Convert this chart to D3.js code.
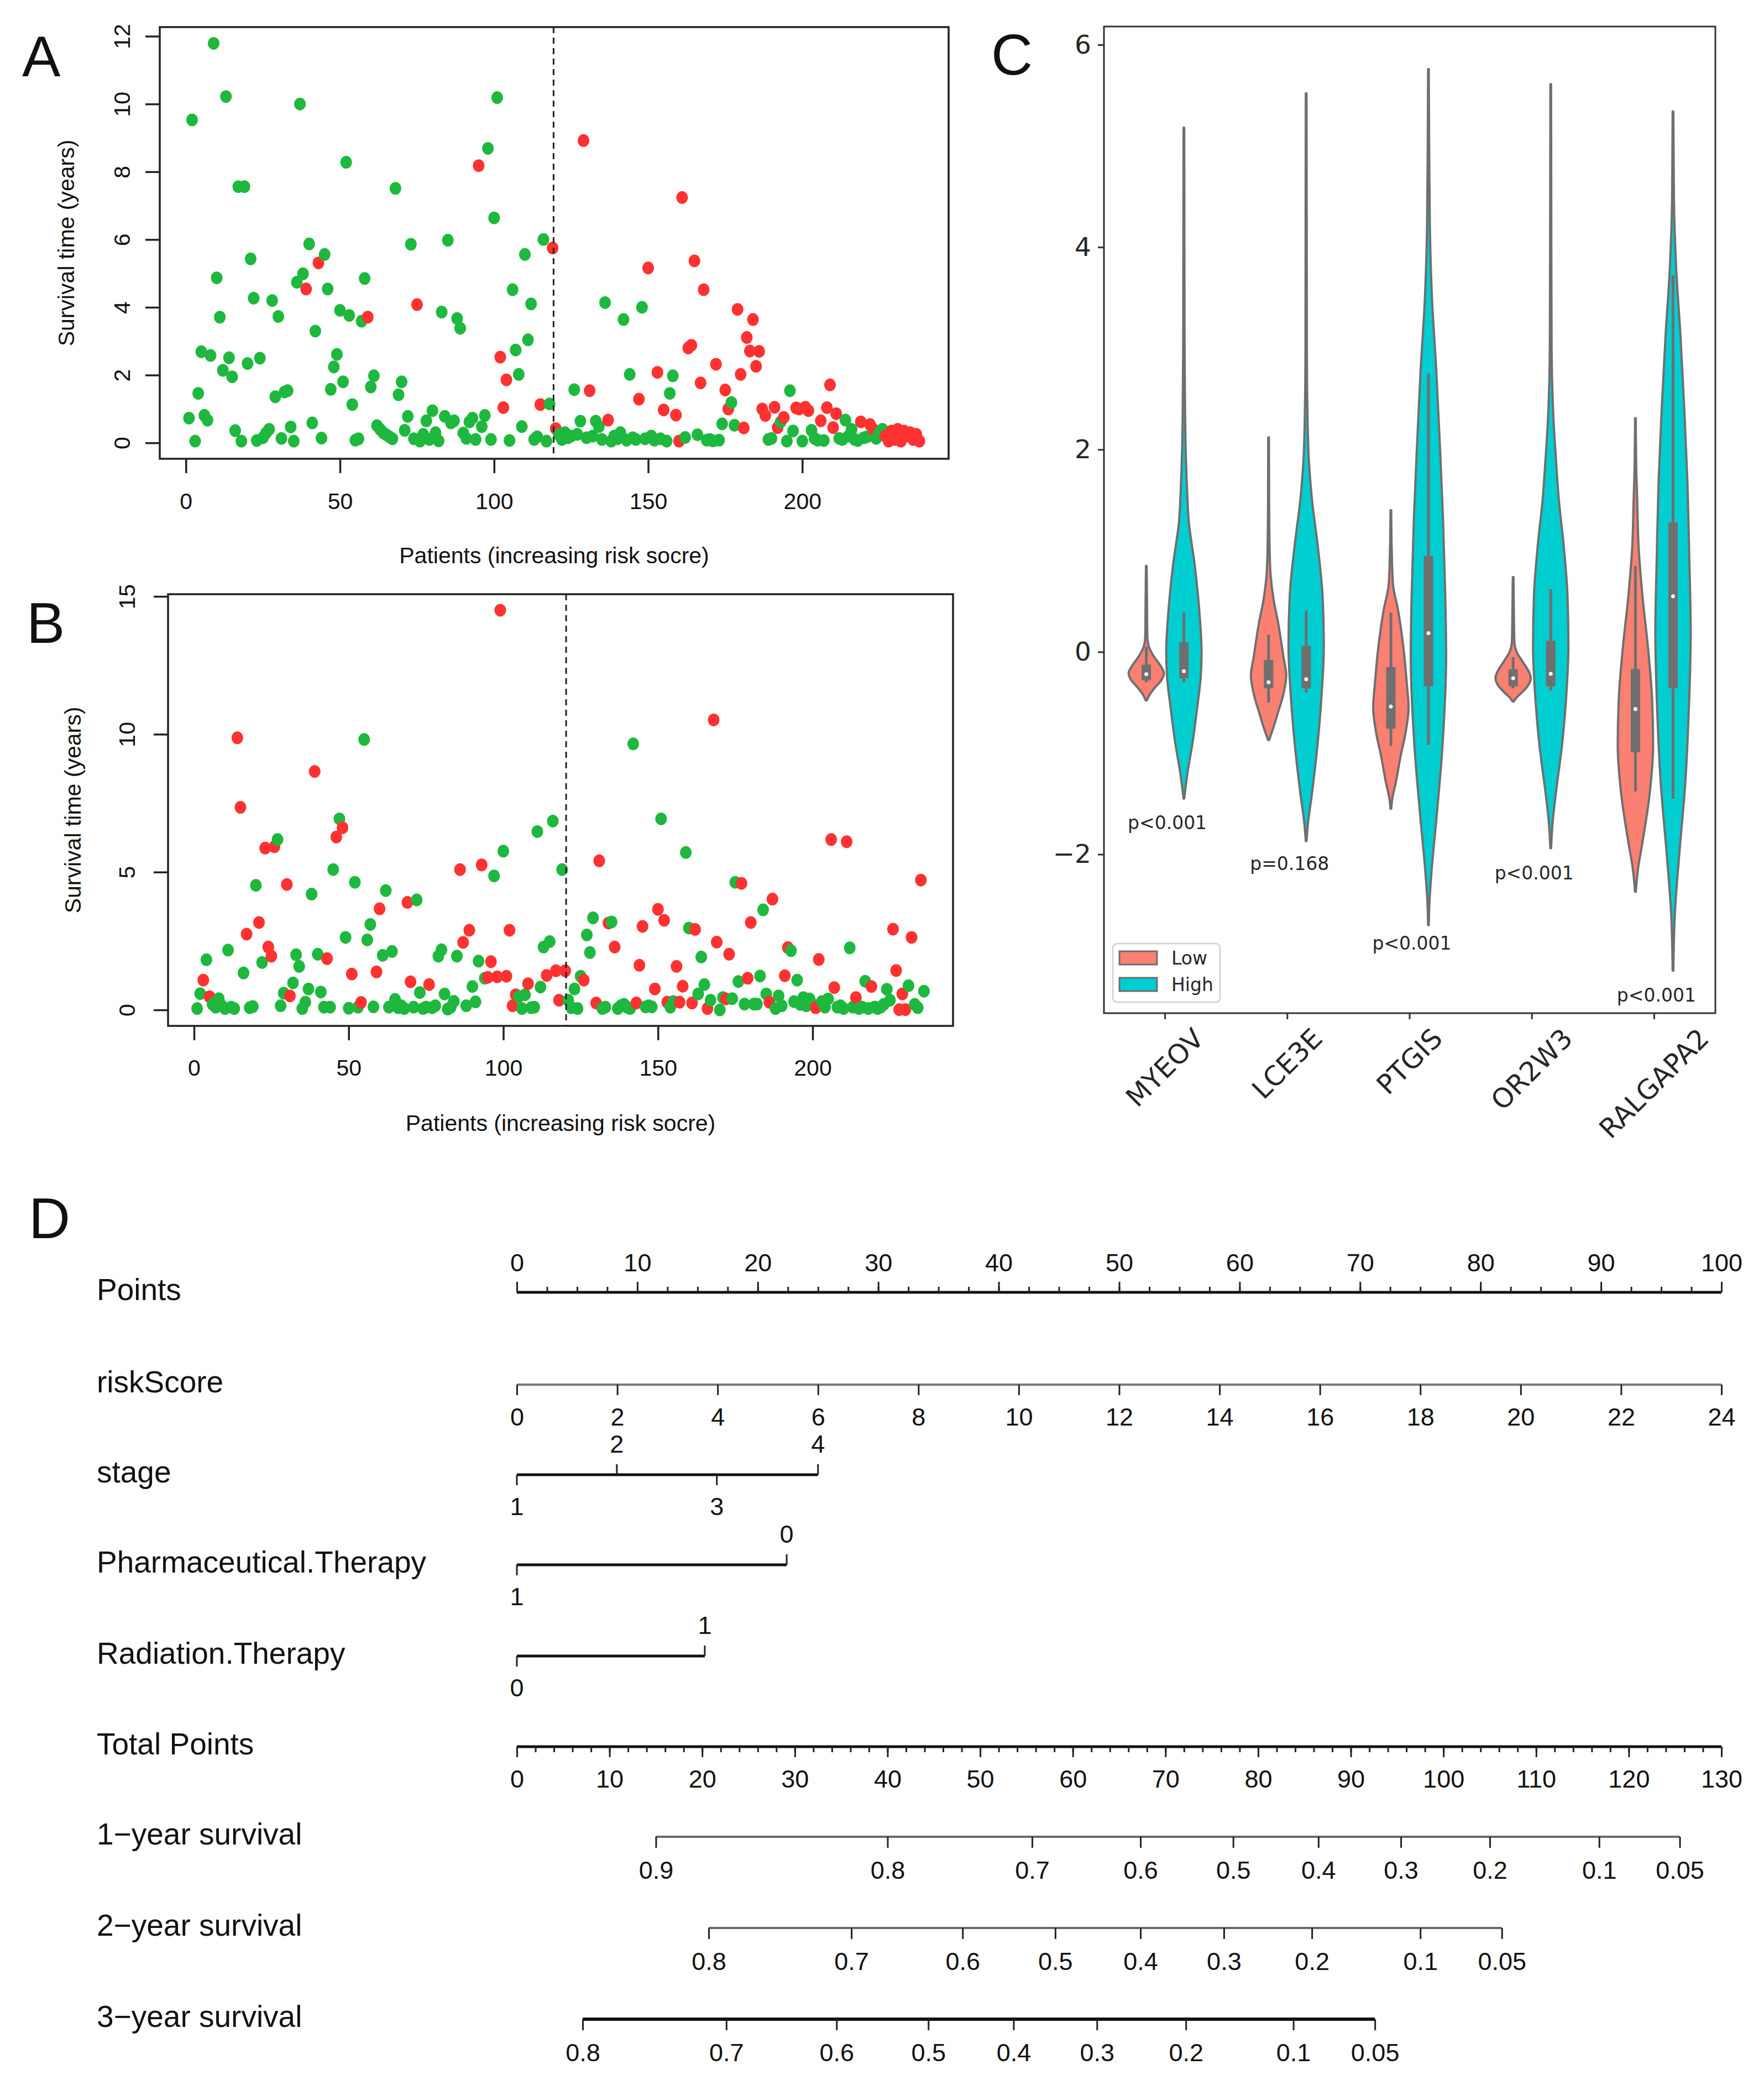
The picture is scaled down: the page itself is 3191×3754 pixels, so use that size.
<!DOCTYPE html>
<html>
<head>
<meta charset="utf-8">
<script src="https://cdn.jsdelivr.net/npm/d3@7"></script>
<style>
  body { margin: 0; background: #fff; }
  svg { display: block; }
</style>
</head>
<body>
<div id="chart"></div>
<script>
// ---------- Panel A: survival time by patient (training set) ----------
const timeA = [
  0.73,9.53,0.05,1.46,2.69,0.81,0.67,2.58,11.79,4.87,
  3.71,2.14,10.22,2.51,1.95,0.36,7.56,0.05,7.56,2.34,
  5.43,4.27,0.07,2.50,0.15,0.29,0.40,4.20,1.36,3.73,
  0.13,1.50,1.54,0.47,0.05,4.74,10.00,4.99,4.54,5.87,
  0.59,3.30,5.31,0.14,5.56,4.54,1.58,2.24,2.61,3.91,
  1.80,8.28,3.76,1.13,0.08,0.12,3.59,4.85,3.71,1.65,
  1.98,0.51,0.40,0.30,0.24,0.18,0.12,7.51,1.42,1.80,
  0.37,0.78,5.86,0.12,4.08,0.05,0.25,0.65,0.10,0.95,
  0.30,0.06,3.86,0.78,5.98,0.59,0.65,3.67,3.38,0.29,
  0.13,0.62,0.73,0.10,8.18,0.48,0.81,8.69,0.10,6.64,
  10.19,2.53,1.04,1.86,0.07,4.52,2.74,2.02,0.48,5.56,
  3.04,4.10,0.10,0.18,1.13,6.00,0.05,1.15,5.75,0.42,
  0.24,0.10,0.30,0.15,0.20,1.57,0.25,0.64,8.92,0.15,
  1.54,0.20,0.64,0.48,0.10,4.14,0.67,0.05,0.20,0.12,
  0.30,3.64,0.08,2.02,0.15,0.10,1.29,4.00,0.12,5.16,
  0.20,0.08,2.08,0.12,0.97,0.05,1.46,1.98,0.82,0.05,
  7.24,0.16,2.80,2.88,5.37,0.24,1.77,4.52,0.08,0.10,
  0.06,2.32,0.08,0.56,1.56,1.00,1.19,0.52,3.94,2.02,
  0.44,3.11,2.71,3.64,2.26,2.70,1.00,0.81,0.10,0.13,
  1.05,0.45,0.62,0.75,0.05,1.54,0.35,1.03,1.00,0.05,
  1.05,0.95,0.37,0.13,0.08,0.65,0.07,1.04,1.71,0.45,
  0.86,0.13,0.10,0.67,0.20,0.40,0.10,0.07,0.62,0.15,
  0.18,0.54,0.40,0.13,0.30,0.40,0.20,0.05,0.35,0.10,
  0.40,0.05,0.35,0.20,0.30,0.10,0.25,0.05
];
// 1 = dead (red), 0 = alive (green)
const statusA = [
  0,0,0,0,0,0,0,0,0,0, 0,0,0,0,0,0,0,0,0,0, 0,0,0,0,0,0,0,0,0,0,
  0,0,0,0,0,0,0,0,1,0, 0,0,1,0,0,0,0,0,0,0, 0,0,0,0,0,0,0,0,1,0,
  0,0,0,0,0,0,0,0,0,0, 0,0,0,0,1,0,0,0,0,0, 0,0,0,0,0,0,0,0,0,0,
  0,0,0,0,1,0,0,0,0,0, 0,1,1,1,0,0,0,0,0,0, 0,0,0,0,1,0,0,0,1,1,
  0,0,0,0,0,0,0,0,1,0, 1,0,0,0,0,0,1,0,0,0, 0,0,0,0,0,0,1,0,0,1,
  0,0,1,0,1,0,0,0,1,1, 1,0,1,1,1,0,1,1,0,0, 0,1,0,0,1,1,0,0,1,1,
  1,1,1,1,1,1,1,1,0,0, 1,1,0,1,0,0,0,1,1,0, 1,1,0,0,0,1,0,1,1,1,
  1,0,0,0,0,0,0,0,1,0, 0,1,1,0,0,0,1,1,1,1, 1,1,1,1,1,1,1,1
];
const cutA = 119.3;

// ---------- Panel B: survival time by patient (validation set) ----------
const timeB = [
  0.05,0.59,1.08,1.82,0.48,0.20,0.10,0.41,0.15,0.05,
  2.17,0.10,0.05,9.87,7.35,1.34,2.75,0.08,0.12,4.52,
  3.17,1.72,5.87,2.28,1.95,5.92,6.18,0.15,0.61,4.55,
  0.51,0.98,2.00,1.58,0.05,0.28,0.76,4.20,8.65,2.02,
  0.65,0.10,1.86,0.10,5.09,6.27,6.93,6.61,2.63,0.06,
  1.30,4.63,0.10,0.27,9.81,2.54,3.10,0.11,1.38,3.67,
  1.98,4.33,0.10,2.12,0.38,0.08,0.15,0.05,3.90,1.02,
  0.10,3.99,0.63,0.05,0.10,0.92,0.08,0.15,1.95,2.18,
  0.58,0.03,0.10,0.31,1.95,5.09,2.45,0.15,2.89,0.85,
  0.29,1.77,5.26,1.15,1.18,1.75,4.86,1.20,14.50,5.76,
  1.22,2.89,0.15,0.55,0.48,0.05,0.55,0.95,0.08,0.10,
  6.47,0.83,2.28,1.25,2.48,6.85,1.42,0.35,5.09,1.42,
  0.35,0.08,0.76,0.05,1.22,1.08,2.72,2.08,3.34,0.25,
  5.41,0.05,0.10,3.15,3.19,2.28,0.05,0.15,0.20,0.10,
  0.05,9.65,0.25,1.62,3.03,0.11,0.15,0.11,0.76,3.65,
  6.93,3.25,0.28,0.10,0.30,1.58,0.28,0.86,5.71,2.97,
  0.25,2.92,0.58,1.92,0.92,0.05,0.35,10.52,2.46,0.00,
  0.45,0.40,2.02,0.41,4.63,1.03,4.59,0.21,1.15,3.17,
  0.21,0.21,1.23,3.63,0.58,0.28,4.02,0.05,0.51,0.15,
  1.24,2.26,2.15,0.30,1.08,0.20,0.45,0.15,0.40,0.20,
  0.08,1.83,0.30,0.10,0.40,6.18,0.81,0.10,0.15,0.05,
  6.10,2.25,0.10,0.45,0.05,0.10,1.04,0.05,0.85,0.10,
  0.05,0.10,0.20,0.75,0.35,2.93,1.43,0.01,0.58,0.01,
  0.88,2.63,0.20,0.08,4.71,0.68
];
const statusB = [
  0,0,1,0,1,0,0,0,0,0, 0,0,0,1,1,0,1,0,0,0, 1,0,1,1,1,1,0,0,0,1,
  1,0,0,0,0,0,0,0,1,0, 0,0,1,0,0,1,0,1,0,0, 1,0,0,1,0,0,0,0,1,1,
  0,0,0,0,0,0,0,0,1,1, 0,0,0,0,0,1,0,0,0,0, 0,0,0,0,0,1,1,0,1,0,
  0,0,1,0,1,1,0,1,1,0, 1,1,1,1,0,0,0,1,0,0, 0,0,0,1,0,0,1,1,0,1,
  0,0,0,0,0,1,0,0,0,1, 1,0,0,1,0,1,0,0,0,0, 0,0,1,1,1,0,0,0,1,1,
  0,1,1,0,0,1,1,1,0,0, 1,1,0,0,0,1,0,1,1,0, 0,1,1,0,0,0,1,0,1,1,
  0,0,0,0,0,1,1,0,0,0, 1,1,0,0,0,0,0,0,0,0, 1,1,0,0,0,1,1,0,0,0,
  1,0,0,1,0,0,0,0,1,0, 0,0,0,0,0,1,1,1,1,1, 0,1,0,0,1,0
];
const cutB = 120.3;

const patientTicks = [0, 50, 100, 150, 200];
const yTicksA = [0, 2, 4, 6, 8, 10, 12];
const yTicksB = [0, 5, 10, 15];

// ---------- Panel C: violin plots ----------
const genes = ['MYEOV', 'LCE3E', 'PTGIS', 'OR2W3', 'RALGAPA2'];
const riskGroups = ['Low', 'High'];
// density outlines: [expression value, relative half width]
const violinLow = [
  [[0.85,0.02],[0.5,0.04],[0.15,0.06],[0.05,0.15],[-0.05,0.45],[-0.15,0.85],[-0.21,1.0],[-0.28,0.85],[-0.35,0.5],[-0.42,0.2],[-0.48,0.03]],
  [[2.12,0.02],[1.5,0.03],[1.0,0.06],[0.75,0.12],[0.5,0.3],[0.3,0.53],[-0.06,0.85],[-0.23,1.0],[-0.43,0.82],[-0.6,0.53],[-0.75,0.27],[-0.87,0.03]],
  [[1.40,0.02],[1.0,0.05],[0.67,0.12],[0.42,0.4],[0.06,0.7],[-0.31,0.9],[-0.55,1.0],[-0.8,0.83],[-1.04,0.54],[-1.29,0.28],[-1.45,0.08],[-1.55,0.02]],
  [[0.74,0.02],[0.4,0.04],[0.1,0.07],[0.0,0.2],[-0.1,0.55],[-0.2,0.9],[-0.26,1.0],[-0.33,0.85],[-0.4,0.5],[-0.45,0.2],[-0.49,0.03]],
  [[2.31,0.02],[1.8,0.05],[1.5,0.1],[1.04,0.18],[0.55,0.4],[0.06,0.7],[-0.43,0.93],[-0.92,1.0],[-1.41,0.8],[-1.9,0.38],[-2.14,0.15],[-2.37,0.02]]
];
const violinHigh = [
  [[5.18,0.02],[4.0,0.03],[3.0,0.04],[2.3,0.07],[2.0,0.1],[1.6,0.18],[1.3,0.27],[0.85,0.62],[0.34,0.9],[0.0,1.0],[-0.25,0.95],[-0.54,0.76],[-0.91,0.48],[-1.2,0.2],[-1.45,0.02]],
  [[5.52,0.02],[4.5,0.03],[3.0,0.04],[2.3,0.08],[1.9,0.15],[1.52,0.32],[1.04,0.66],[0.55,0.93],[0.06,1.0],[-0.43,0.87],[-0.92,0.64],[-1.41,0.32],[-1.7,0.1],[-1.87,0.02]],
  [[5.76,0.02],[5.0,0.04],[4.2,0.08],[3.5,0.2],[2.76,0.45],[2.03,0.65],[1.29,0.83],[0.56,0.95],[-0.03,1.0],[-0.91,0.8],[-1.65,0.45],[-2.16,0.18],[-2.5,0.05],[-2.7,0.02]],
  [[5.61,0.02],[4.5,0.03],[3.0,0.05],[2.4,0.13],[1.81,0.33],[1.52,0.45],[1.04,0.74],[0.55,0.95],[0.06,1.0],[-0.43,0.88],[-0.92,0.64],[-1.41,0.28],[-1.7,0.1],[-1.94,0.02]],
  [[5.34,0.02],[4.5,0.05],[3.79,0.18],[3.13,0.42],[2.4,0.64],[1.66,0.82],[0.93,0.92],[0.19,1.0],[-0.54,0.9],[-1.28,0.7],[-2.01,0.35],[-2.6,0.1],[-3.15,0.02]]
];
// inner boxes: [whisker low, q1, median, q3, whisker high]
const boxLow = [
  [-0.30,-0.28,-0.22,-0.125,0.05],
  [-0.50,-0.36,-0.30,-0.08,0.17],
  [-0.93,-0.76,-0.54,-0.15,0.39],
  [-0.36,-0.34,-0.26,-0.17,-0.05],
  [-1.38,-0.99,-0.565,-0.17,0.85]
];
const boxHigh = [
  [-0.30,-0.26,-0.19,0.095,0.39],
  [-0.40,-0.36,-0.27,0.06,0.41],
  [-0.92,-0.34,0.185,0.95,2.75],
  [-0.38,-0.34,-0.216,0.11,0.62],
  [-1.45,-0.36,0.55,1.28,3.72]
];
const pLabels = ['p<0.001', 'p=0.168', 'p<0.001', 'p<0.001', 'p<0.001'];
const pLabelValue = [-1.69, -2.09, -2.88, -2.185, -3.39];
const yTicksC = [-2, 0, 2, 4, 6];

// ---------- Panel D: nomogram ----------
const pointsTicks = d3.range(0, 101, 10);
const riskScoreTicks = d3.range(0, 25, 2);
const stageLevels = ['1', '2', '3', '4'];
const stagePoints = [0, 8.3, 16.6, 25];
const pharmaLevels = ['1', '0'];
const pharmaPoints = [0, 22.4];
const radiationLevels = ['0', '1'];
const radiationPoints = [0, 15.6];
const totalTicks = d3.range(0, 131, 10);
const survLabels1 = ['0.9','0.8','0.7','0.6','0.5','0.4','0.3','0.2','0.1','0.05'];
const survTotal1 = [15.0, 40.0, 55.6, 67.3, 77.3, 86.5, 95.4, 105.0, 116.8, 125.5];
const survLabels2 = ['0.8','0.7','0.6','0.5','0.4','0.3','0.2','0.1','0.05'];
const survTotal2 = [20.7, 36.1, 48.1, 58.1, 67.3, 76.3, 85.8, 97.5, 106.3];
const survLabels3 = ['0.8','0.7','0.6','0.5','0.4','0.3','0.2','0.1','0.05'];
const survTotal3 = [7.1, 22.6, 34.5, 44.4, 53.6, 62.6, 72.2, 83.8, 92.6];

// ---------------------------------------------------------------
const W = 3191, H = 3754;
const rFont = '"Liberation Sans", Arial, Helvetica, sans-serif';
const pyFont = '"DejaVu Sans", sans-serif';
const green = '#1eb83e', red = '#ff3131';

const svg = d3.select('#chart').append('svg')
  .attr('width', W).attr('height', H)
  .attr('viewBox', `0 0 ${W} ${H}`);
svg.append('rect').attr('width', W).attr('height', H).attr('fill', '#fff');

function panelLetter(txt, x, y) {
  svg.append('text').attr('x', x).attr('y', y)
    .attr('font-family', rFont).attr('font-size', 104)
    .attr('fill', '#111').text(txt);
}

function drawScatter(p) {
  const g = svg.append('g');
  const x = d3.scaleLinear().domain(p.xDomain).range([p.left, p.right]);
  const y = d3.scaleLinear().domain(p.yDomain).range([p.bottom, p.top]);

  // x axis (R style: ticks out of the box)
  const xa = g.append('g')
    .attr('transform', `translate(0,${p.bottom})`)
    .call(d3.axisBottom(x).tickValues(patientTicks).tickSize(26).tickSizeOuter(0))
    .attr('font-family', rFont).attr('font-size', 41);
  xa.select('.domain').remove();
  xa.selectAll('line').attr('stroke', '#222').attr('stroke-width', 3.5);
  xa.selectAll('text').attr('y', p.xTickOffset).attr('dy', '0.35em').attr('fill', '#111');

  const ya = g.append('g')
    .attr('transform', `translate(${p.left},0)`)
    .call(d3.axisLeft(y).tickValues(p.yTicks).tickSize(26).tickSizeOuter(0))
    .attr('font-family', rFont).attr('font-size', 41);
  ya.select('.domain').remove();
  ya.selectAll('line').attr('stroke', '#222').attr('stroke-width', 3.5);
  ya.selectAll('text')
    .attr('transform', 'rotate(-90)')
    .attr('x', 0).attr('y', -p.yTickOffset).attr('dy', '0.35em')
    .style('text-anchor', 'middle').attr('fill', '#111');

  const pts = p.times.map((t, i) => ({ idx: i + 1, t, dead: p.status[i] }));
  g.append('g').selectAll('ellipse').data(pts).join('ellipse')
    .attr('cx', d => x(d.idx))
    .attr('cy', d => y(d.t))
    .attr('rx', 10.5).attr('ry', 11.5)
    .attr('fill', d => d.dead ? red : green);

  g.append('line')
    .attr('x1', x(p.cut)).attr('x2', x(p.cut))
    .attr('y1', p.top).attr('y2', p.bottom)
    .attr('stroke', '#222').attr('stroke-width', 3)
    .attr('stroke-dasharray', '11,8');

  g.append('rect')
    .attr('x', p.left).attr('y', p.top)
    .attr('width', p.right - p.left).attr('height', p.bottom - p.top)
    .attr('fill', 'none').attr('stroke', '#222').attr('stroke-width', 3.5);

  g.append('text')
    .attr('x', (p.left + p.right) / 2).attr('y', p.xLabelY).attr('dy', '0.35em')
    .attr('text-anchor', 'middle')
    .attr('font-family', rFont).attr('font-size', 41).attr('fill', '#111')
    .text('Patients (increasing risk socre)');

  g.append('text')
    .attr('transform', `translate(${p.yLabelX},${(p.top + p.bottom) / 2}) rotate(-90)`)
    .attr('dy', '0.35em').attr('text-anchor', 'middle')
    .attr('font-family', rFont).attr('font-size', 41).attr('fill', '#111')
    .text('Survival time (years)');
}

drawScatter({
  times: timeA, status: statusA, cut: cutA, yTicks: yTicksA,
  xDomain: [-8.48, 247.48], yDomain: [-0.47, 12.27],
  left: 289, right: 1716, top: 49, bottom: 830,
  xTickOffset: 77, yTickOffset: 68, xLabelY: 1005, yLabelX: 120
});
drawScatter({
  times: timeB, status: statusB, cut: cutB, yTicks: yTicksB,
  xDomain: [-8.4, 245.4], yDomain: [-0.58, 15.08],
  left: 304, right: 1724, top: 1075, bottom: 1856,
  xTickOffset: 76, yTickOffset: 74, xLabelY: 2032, yLabelX: 132
});
panelLetter('A', 40, 138);
panelLetter('B', 48, 1163);

// ---------- Panel C ----------
(function drawViolins() {
  const left = 1997, right = 3103, top = 48, bottom = 1833;
  const g = svg.append('g');
  const x = d3.scaleBand().domain(genes).range([left, right]).padding(0);
  const y = d3.scaleLinear().domain([-3.57, 6.18]).range([bottom, top]);
  const hue = d3.scaleOrdinal().domain(riskGroups).range([-34, 34]);
  const fill = d3.scaleOrdinal().domain(riskGroups).range(['#fa8072', '#00ced1']);
  const halfW = d3.scaleLinear().domain([0, 1]).range([0, 32]);
  const grey = '#6f6f6f';

  const violins = [];
  genes.forEach((gene, gi) => {
    violins.push({ gene, grp: 'Low', prof: violinLow[gi], box: boxLow[gi] });
    violins.push({ gene, grp: 'High', prof: violinHigh[gi], box: boxHigh[gi] });
  });
  const cx = d => x(d.gene) + x.bandwidth() / 2 + hue(d.grp);

  const area = d3.area()
    .curve(d3.curveMonotoneY)
    .y(q => y(q[0]));

  const vg = g.selectAll('g.violin').data(violins).join('g').attr('class', 'violin');
  vg.append('path')
    .attr('d', d => area.x0(q => cx(d) - halfW(q[1])).x1(q => cx(d) + halfW(q[1]))(d.prof))
    .attr('fill', d => fill(d.grp))
    .attr('stroke', grey).attr('stroke-width', 4).attr('stroke-linejoin', 'round');
  vg.append('line')
    .attr('x1', cx).attr('x2', cx)
    .attr('y1', d => y(d.box[0])).attr('y2', d => y(d.box[4]))
    .attr('stroke', grey).attr('stroke-width', 5);
  vg.append('rect')
    .attr('x', d => cx(d) - 8.5).attr('width', 17)
    .attr('y', d => y(d.box[3])).attr('height', d => y(d.box[1]) - y(d.box[3]))
    .attr('fill', grey);
  vg.append('circle')
    .attr('cx', cx).attr('cy', d => y(d.box[2])).attr('r', 3.5)
    .attr('fill', '#fff');

  // p values
  g.selectAll('text.pval').data(genes).join('text').attr('class', 'pval')
    .attr('x', d => x(d) + x.bandwidth() / 2 + 4)
    .attr('y', (d, i) => y(pLabelValue[i])).attr('dy', '0.35em')
    .attr('text-anchor', 'middle')
    .attr('font-family', pyFont).attr('font-size', 33).attr('fill', '#262626')
    .text((d, i) => pLabels[i]);

  // frame
  g.append('rect').attr('x', left).attr('y', top)
    .attr('width', right - left).attr('height', bottom - top)
    .attr('fill', 'none').attr('stroke', '#333').attr('stroke-width', 3);

  // y axis
  const ya = g.append('g').attr('transform', `translate(${left},0)`)
    .call(d3.axisLeft(y).tickValues(yTicksC).tickSize(11).tickPadding(12)
      .tickFormat(d => d < 0 ? '\u2212' + Math.abs(d) : d))
    .attr('font-family', pyFont).attr('font-size', 47);
  ya.select('.domain').remove();
  ya.selectAll('line').attr('stroke', '#333').attr('stroke-width', 3);
  ya.selectAll('text').attr('fill', '#262626');

  // x axis: ticks and rotated labels
  const xa = g.append('g').attr('transform', `translate(0,${bottom})`)
    .call(d3.axisBottom(x).tickSize(11).tickFormat(''));
  xa.select('.domain').remove();
  xa.selectAll('line').attr('stroke', '#333').attr('stroke-width', 3);

  genes.forEach(gene => {
    const lg = g.append('g');
    lg.append('text')
      .attr('transform', 'rotate(-45)')
      .attr('text-anchor', 'middle').attr('dy', '0.35em')
      .attr('font-family', pyFont).attr('font-size', 49).attr('fill', '#262626')
      .text(gene);
    const bb = lg.node().getBBox();
    const tx = x(gene) + x.bandwidth() / 2 - (bb.x + bb.width / 2);
    const ty = bottom + 17 - bb.y;
    lg.attr('transform', `translate(${tx},${ty})`);
  });

  // legend
  const lgd = g.append('g').attr('transform', 'translate(2013,1707)');
  lgd.append('rect').attr('width', 194).attr('height', 106).attr('rx', 8)
    .attr('fill', '#fff').attr('stroke', '#d6d6d6').attr('stroke-width', 3);
  riskGroups.forEach((grp, i) => {
    lgd.append('rect').attr('x', 12).attr('y', 14 + i * 48)
      .attr('width', 68).attr('height', 24)
      .attr('fill', fill(grp)).attr('stroke', grey).attr('stroke-width', 3);
    lgd.append('text').attr('x', 106).attr('y', 26 + i * 48).attr('dy', '0.35em')
      .attr('font-family', pyFont).attr('font-size', 33).attr('fill', '#262626')
      .text(grp);
  });
})();
panelLetter('C', 1793, 135);

// ---------- Panel D: nomogram ----------
(function drawNomogram() {
  const x0 = 935, x1 = 3114;
  const g = svg.append('g').attr('font-family', rFont);
  const ptsX = d3.scaleLinear().domain([0, 100]).range([x0, x1]);
  const riskX = d3.scaleLinear().domain([0, 24]).range([x0, x1]);
  const totX = d3.scaleLinear().domain([0, 130]).range([x0, x1]);
  const tickFs = 45, labelFs = 55;
  const black = '#111';

  const rows = [
    { name: 'Points', y: 2338 },
    { name: 'riskScore', y: 2505 },
    { name: 'stage', y: 2668 },
    { name: 'Pharmaceutical.Therapy', y: 2831 },
    { name: 'Radiation.Therapy', y: 2996 },
    { name: 'Total Points', y: 3160 },
    { name: '1\u2212year survival', y: 3323 },
    { name: '2\u2212year survival', y: 3488 },
    { name: '3\u2212year survival', y: 3653 }
  ];
  g.selectAll('text.rowlab').data(rows).join('text').attr('class', 'rowlab')
    .attr('x', 175).attr('y', d => d.y - 5).attr('dy', '0.35em')
    .attr('font-size', labelFs).attr('fill', black)
    .text(d => d.name);

  function styleAxis(sel, labelOffset) {
    sel.attr('font-family', rFont).attr('font-size', tickFs);
    sel.select('.domain').remove();
    sel.selectAll('line').attr('stroke', '#222').attr('stroke-width', 3);
    sel.selectAll('text').attr('y', labelOffset).attr('dy', '0.35em').attr('fill', black);
  }
  function axisLine(y, a, b, color, width) {
    g.append('line').attr('x1', a).attr('x2', b).attr('y1', y).attr('y2', y)
      .attr('stroke', color).attr('stroke-width', width).attr('stroke-linecap', 'butt');
  }

  // Points
  axisLine(rows[0].y, x0, x1, black, 5);
  const pMinor = g.append('g').attr('transform', `translate(0,${rows[0].y})`)
    .call(d3.axisTop(ptsX).tickValues(d3.range(0, 101, 2.5)).tickSize(10).tickFormat(''));
  styleAxis(pMinor, 0);
  const pMajor = g.append('g').attr('transform', `translate(0,${rows[0].y})`)
    .call(d3.axisTop(ptsX).tickValues(pointsTicks).tickSize(19));
  styleAxis(pMajor, -54);

  // riskScore
  axisLine(rows[1].y, x0, x1, '#7a7a7a', 4);
  const rAx = g.append('g').attr('transform', `translate(0,${rows[1].y})`)
    .call(d3.axisBottom(riskX).tickValues(riskScoreTicks).tickSize(19));
  styleAxis(rAx, 58);

  // categorical rows
  function catRow(y, levels, pts) {
    axisLine(y, ptsX(d3.min(pts)), ptsX(d3.max(pts)), black, 5);
    const items = levels.map((lab, i) => ({ lab, p: pts[i], up: i % 2 === 1 }));
    g.selectAll(null).data(items).join('line')
      .attr('x1', d => ptsX(d.p)).attr('x2', d => ptsX(d.p))
      .attr('y1', y).attr('y2', d => d.up ? y - 19 : y + 19)
      .attr('stroke', '#222').attr('stroke-width', 3);
    g.selectAll(null).data(items).join('text')
      .attr('x', d => ptsX(d.p)).attr('y', d => d.up ? y - 56 : y + 57).attr('dy', '0.35em')
      .attr('text-anchor', 'middle').attr('font-size', tickFs).attr('fill', black)
      .text(d => d.lab);
  }
  catRow(rows[2].y, stageLevels, stagePoints);
  catRow(rows[3].y, pharmaLevels, pharmaPoints);
  catRow(rows[4].y, radiationLevels, radiationPoints);

  // Total points
  axisLine(rows[5].y, x0, x1, black, 5);
  const tMinor = g.append('g').attr('transform', `translate(0,${rows[5].y})`)
    .call(d3.axisBottom(totX).tickValues(d3.range(0, 131, 2)).tickSize(10).tickFormat(''));
  styleAxis(tMinor, 0);
  const tMajor = g.append('g').attr('transform', `translate(0,${rows[5].y})`)
    .call(d3.axisBottom(totX).tickValues(totalTicks).tickSize(19));
  styleAxis(tMajor, 58);

  // survival rows
  [[survTotal1, survLabels1, '#6a6a6a', 4], [survTotal2, survLabels2, '#6a6a6a', 4], [survTotal3, survLabels3, black, 6]]
    .forEach(([tot, labs, col, wd], i) => {
      const y = rows[6 + i].y;
      axisLine(y, totX(d3.min(tot)), totX(d3.max(tot)), col, wd);
      const ax = g.append('g').attr('transform', `translate(0,${y})`)
        .call(d3.axisBottom(totX).tickValues(tot).tickSize(20)
          .tickFormat((d, j) => labs[j]));
      styleAxis(ax, 60);
    });
})();
panelLetter('D', 52, 2240);
</script>
</body>
</html>
